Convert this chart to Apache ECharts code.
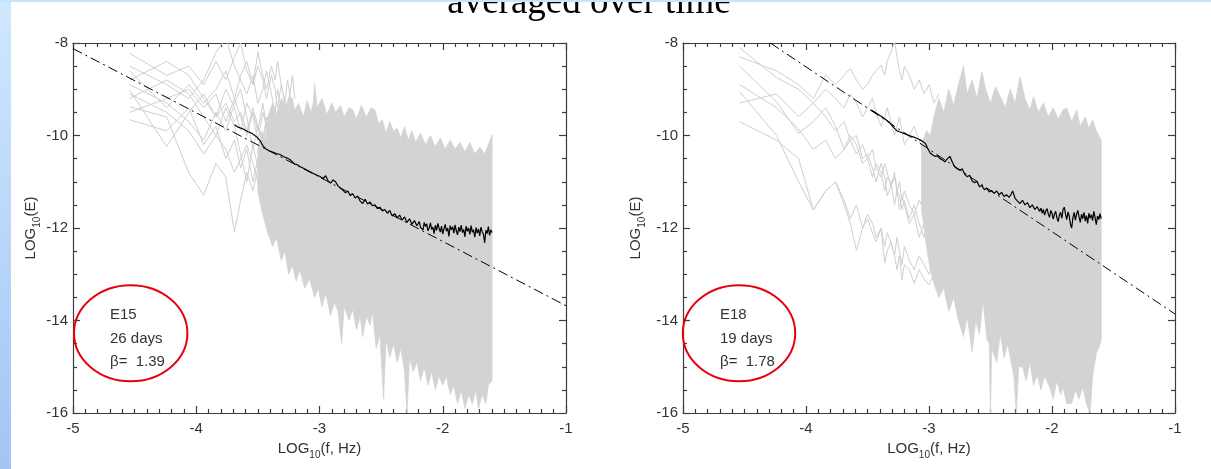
<!DOCTYPE html>
<html><head><meta charset="utf-8">
<script src="https://cdn.jsdelivr.net/npm/echarts@6/dist/echarts.min.js"></script>
<style>html,body{margin:0;padding:0;background:#fff}#c{width:1211px;height:469px}</style>
</head><body><div id="c"></div>
<script>
// ---------- data ----------
const xTickLabels = ['-5','-4','-3','-2','-1'];
const yTickLabels = ['-16','-14','-12','-10','-8'];
const panelLabels = {
  left:  ['E15', '26 days', 'β=  1.39'],
  right: ['E18', '19 days', 'β=  1.78']
};
// fit lines (dash-dot): [x, y] end points
const leftFit  = [[-5, -8.12], [-1, -13.68]];
const rightFit = [[-4.29, -8.0], [-1, -13.86]];

// frequencies of individual spectra (sparse low-frequency part)
const sparseXLeft = [-4.54,-4.24,-4.06,-3.94,-3.84,-3.76,-3.69,-3.64,-3.59,-3.54,-3.50,-3.46,-3.43,-3.39,-3.36,-3.34,-3.31,-3.28,-3.26,-3.24,-3.22,-3.20];
const leftSpec1 = [-8.22,-8.7,-8.5,-8.9,-8.4,-8.8,-8.3,-8.0,-8.6,-8.9,-8.5,-8.8,-9.2,-8.7,-9.0,-9.4,-8.9,-9.3,-9.6,-9.2,-9.5,-9.7];
const leftSpec2 = [-9.02,-10.24,-9.5,-9.1,-9.6,-9.0,-9.4,-9.9,-9.3,-9.6,-10.1,-9.5,-9.8,-10.3,-9.7,-10.0,-10.4,-9.9,-10.2,-10.6,-10.1,-10.4];
const leftSpec3 = [-9.38,-9.6,-10.81,-11.29,-10.6,-10.9,-12.09,-11.4,-10.8,-11.2,-10.7,-11.5,-11.0,-10.6,-11.1,-11.6,-10.9,-11.3,-10.8,-11.4,-11.0,-11.5];
const leftSpec4 = [-9.66,-9.9,-9.4,-10.2,-9.8,-10.5,-10.1,-10.7,-10.3,-11.0,-10.5,-11.3,-10.8,-12.3,-11.2,-11.7,-11.0,-11.6,-12.0,-11.3,-11.8,-12.1];
const leftSpec5 = [-8.5,-8.9,-9.2,-8.8,-8.2,-7.9,-8.5,-8.8,-9.1,-8.7,-9.3,-9.0,-8.6,-9.1,-9.5,-9.0,-9.4,-9.8,-9.3,-9.7,-9.2,-9.6];
const leftSpec6 = [-8.9,-9.3,-9.7,-10.1,-9.5,-9.9,-9.3,-9.0,-9.6,-10.3,-9.8,-10.2,-9.7,-10.5,-10.0,-10.6,-10.2,-9.9,-10.5,-10.8,-10.3,-10.7];
const leftSpec7 = [-9.2,-8.8,-9.1,-9.6,-10.0,-9.4,-9.8,-10.4,-11.0,-10.2,-10.7,-10.3,-11.1,-10.6,-11.4,-10.9,-11.6,-11.2,-10.7,-11.3,-11.7,-11.2];
const leftSpec8 = [-8.6,-9.4,-8.9,-9.3,-9.0,-8.6,-9.2,-8.7,-8.4,-8.9,-8.2,-8.7,-9.0,-8.5,-8.8,-8.4,-8.9,-9.3,-8.8,-9.1,-8.7,-9.2];
const leftSpec9 = [-9.1,-9.5,-9.9,-10.4,-10.0,-10.3,-10.8,-10.5,-10.2,-10.6,-11.0,-10.7,-10.4,-10.9,-11.3,-10.8,-11.1,-11.5,-11.0,-11.3,-11.7,-11.4];
const leftSpec10 = [-8.8,-8.4,-8.7,-9.2,-9.6,-9.3,-9.7,-9.5,-9.9,-9.4,-9.8,-10.1,-9.6,-10.0,-9.7,-10.2,-9.8,-10.3,-10.0,-10.4,-9.9,-10.2];
const leftSpec11 = [-9.5,-9.2,-9.0,-9.4,-9.1,-9.7,-9.2,-9.6,-10.0,-9.5,-9.9,-9.3,-9.8,-9.4,-10.1,-9.6,-10.0,-9.5,-9.9,-10.3,-9.8,-10.2];

const sparseXRight = [-4.54,-4.24,-4.06,-3.94,-3.84,-3.76,-3.69,-3.64,-3.59,-3.54,-3.50,-3.46,-3.43,-3.39,-3.36,-3.34,-3.31,-3.28,-3.26,-3.24,-3.22,-3.20,-3.16,-3.12,-3.08,-3.04,-3.00,-2.96,-2.92];
const rightSpec1 = [-8.1,-8.75,-9.0,-9.3,-9.6,-9.9,-9.7,-10.1,-10.4,-10.2,-10.5,-10.9,-10.6,-10.8,-11.2,-10.9,-11.0,-11.5,-11.2,-11.3,-11.6,-11.4,-11.8,-11.5,-11.9,-12.2,-11.8,-12.0,-12.3];
const rightSpec2 = [-8.5,-9.27,-9.95,-9.7,-9.4,-9.8,-10.3,-10.1,-10.0,-10.5,-10.4,-10.7,-11.0,-10.6,-10.9,-11.3,-11.1,-10.8,-11.2,-11.6,-11.3,-11.5,-11.9,-11.7,-12.2,-11.9,-12.4,-12.1,-12.6];
const rightSpec3 = [-9.05,-10.0,-11.0,-11.6,-11.2,-11.0,-11.5,-11.9,-12.48,-12.0,-11.8,-12.11,-12.3,-12.0,-12.76,-12.5,-12.3,-12.6,-12.9,-12.6,-13.12,-12.8,-12.9,-13.2,-12.9,-13.1,-13.23,-13.0,-13.4];
const rightSpec4 = [-8.3,-8.6,-8.9,-9.2,-8.69,-8.9,-8.7,-8.55,-8.8,-9.0,-8.9,-8.7,-8.6,-8.48,-8.7,-8.4,-8.2,-7.96,-8.3,-8.6,-8.8,-8.5,-8.7,-9.0,-8.8,-9.1,-8.9,-9.3,-9.1];
const rightSpec5 = [-8.9,-9.4,-9.86,-10.3,-10.1,-10.5,-10.3,-10.0,-10.2,-10.6,-10.5,-10.3,-10.7,-10.9,-10.6,-10.8,-11.1,-10.9,-11.2,-11.0,-11.4,-11.2,-11.5,-11.7,-11.4,-11.6,-11.9,-11.7,-12.0];
const rightSpec6 = [-9.7,-10.1,-10.5,-11.61,-11.2,-11.0,-11.4,-11.8,-11.5,-12.0,-11.7,-11.9,-12.2,-12.0,-12.4,-12.1,-12.3,-12.6,-12.2,-12.5,-12.8,-12.4,-12.7,-12.9,-12.6,-12.8,-13.0,-12.7,-13.1];
const rightSpec7 = [-9.3,-9.1,-9.59,-9.3,-9.0,-9.2,-9.4,-9.1,-9.3,-9.6,-9.4,-9.2,-9.5,-9.8,-9.6,-9.4,-9.7,-10.0,-9.8,-9.6,-9.9,-10.2,-10.0,-9.8,-10.1,-10.4,-10.2,-10.0,-10.3];

// envelope of the dense high-frequency part of all spectra
const leftUpper = [[-3.5,-10.3],[-3.47,-9.9],[-3.44,-10.1],[-3.42,-9.6],[-3.38,-9.3],[-3.35,-9.55],[-3.31,-9.2],[-3.27,-9.35],[-3.24,-9.1],[-3.2,-9.45],[-3.17,-9.3],[-3.13,-9.6],[-3.1,-9.25],[-3.07,-9.5],[-3.05,-9.3],[-3.04,-8.87],[-3.02,-9.4],[-2.98,-9.2],[-2.94,-9.55],[-2.9,-9.3],[-2.87,-9.5],[-2.83,-9.35],[-2.8,-9.6],[-2.76,-9.4],[-2.73,-9.45],[-2.7,-9.65],[-2.66,-9.35],[-2.62,-9.6],[-2.58,-9.4],[-2.55,-9.45],[-2.52,-9.75],[-2.49,-9.66],[-2.46,-9.95],[-2.43,-9.7],[-2.4,-9.9],[-2.37,-9.85],[-2.34,-10.05],[-2.31,-9.8],[-2.28,-10.1],[-2.25,-9.9],[-2.22,-10.15],[-2.18,-9.95],[-2.14,-10.2],[-2.1,-10.0],[-2.06,-10.25],[-2.02,-10.05],[-1.98,-10.3],[-1.94,-10.1],[-1.9,-10.3],[-1.86,-10.15],[-1.82,-10.35],[-1.78,-10.15],[-1.74,-10.4],[-1.7,-10.25],[-1.66,-10.4],[-1.63,-10.2],[-1.6,-9.99]];
const leftLower = [[-3.5,-11.2],[-3.47,-11.6],[-3.44,-11.9],[-3.42,-12.1],[-3.38,-12.4],[-3.35,-12.2],[-3.31,-12.7],[-3.28,-12.5],[-3.25,-13.0],[-3.22,-12.8],[-3.19,-13.15],[-3.16,-12.9],[-3.12,-13.3],[-3.08,-13.1],[-3.04,-13.5],[-3.01,-13.3],[-2.98,-13.7],[-2.95,-13.4],[-2.91,-13.9],[-2.88,-13.6],[-2.85,-13.8],[-2.82,-14.5],[-2.80,-13.7],[-2.76,-14.0],[-2.73,-13.75],[-2.70,-14.2],[-2.67,-13.9],[-2.65,-14.35],[-2.62,-13.9],[-2.59,-14.1],[-2.57,-13.8],[-2.54,-14.6],[-2.51,-14.3],[-2.48,-15.7],[-2.46,-14.4],[-2.43,-14.8],[-2.40,-14.5],[-2.37,-14.9],[-2.34,-14.6],[-2.31,-15.1],[-2.29,-16.0],[-2.27,-14.8],[-2.24,-15.1],[-2.21,-14.9],[-2.18,-15.3],[-2.15,-15.0],[-2.12,-15.4],[-2.09,-15.1],[-2.06,-15.5],[-2.03,-15.2],[-2.0,-15.4],[-1.97,-15.2],[-1.94,-15.6],[-1.91,-15.4],[-1.88,-15.8],[-1.85,-15.5],[-1.82,-15.9],[-1.79,-15.6],[-1.76,-15.8],[-1.73,-15.5],[-1.71,-15.9],[-1.68,-15.6],[-1.65,-15.8],[-1.63,-15.4],[-1.6,-15.3]];
const rightUpper = [[-3.06,-10.2],[-3.02,-9.9],[-2.99,-10.0],[-2.96,-9.6],[-2.92,-9.2],[-2.88,-9.5],[-2.84,-9.0],[-2.8,-9.35],[-2.76,-8.9],[-2.72,-8.5],[-2.69,-9.1],[-2.65,-8.8],[-2.61,-9.2],[-2.57,-8.62],[-2.54,-9.0],[-2.5,-9.3],[-2.46,-8.95],[-2.42,-9.16],[-2.38,-9.4],[-2.34,-9.0],[-2.3,-9.3],[-2.26,-8.73],[-2.22,-9.2],[-2.18,-9.45],[-2.15,-9.16],[-2.11,-9.5],[-2.07,-9.3],[-2.03,-9.6],[-1.99,-9.4],[-1.95,-9.65],[-1.91,-9.45],[-1.88,-9.41],[-1.84,-9.7],[-1.8,-9.45],[-1.77,-9.8],[-1.73,-9.6],[-1.7,-9.85],[-1.67,-9.66],[-1.64,-9.9],[-1.6,-10.1]];
const rightLower = [[-3.06,-11.6],[-3.02,-12.4],[-2.99,-12.9],[-2.96,-13.2],[-2.92,-13.5],[-2.88,-13.3],[-2.84,-13.8],[-2.8,-13.5],[-2.76,-14.0],[-2.72,-14.35],[-2.69,-13.9],[-2.65,-14.67],[-2.62,-14.0],[-2.59,-14.3],[-2.56,-13.56],[-2.53,-14.4],[-2.51,-14.5],[-2.50,-16.0],[-2.49,-14.6],[-2.45,-14.9],[-2.42,-14.28],[-2.39,-14.8],[-2.36,-14.5],[-2.34,-14.78],[-2.31,-15.2],[-2.29,-16.0],[-2.27,-15.0],[-2.24,-15.0],[-2.21,-15.3],[-2.18,-14.9],[-2.15,-15.4],[-2.12,-15.18],[-2.09,-15.5],[-2.06,-15.2],[-2.02,-15.43],[-1.99,-15.7],[-1.96,-15.3],[-1.93,-15.6],[-1.91,-15.43],[-1.88,-15.8],[-1.84,-15.79],[-1.81,-15.5],[-1.78,-15.7],[-1.75,-15.43],[-1.72,-15.8],[-1.69,-16.0],[-1.67,-15.2],[-1.64,-14.71],[-1.62,-14.6],[-1.6,-14.42]];

// time-averaged spectra (black)
const leftMean = [[-3.69,-9.77],[-3.66,-9.82],[-3.62,-9.86],[-3.58,-9.92],[-3.55,-9.95],[-3.51,-10.03],[-3.48,-10.12],[-3.46,-10.22],[-3.44,-10.28],[-3.41,-10.33],[-3.38,-10.36],[-3.35,-10.39],[-3.32,-10.41],[-3.29,-10.46],[-3.26,-10.49],[-3.24,-10.52],[-3.22,-10.57],[-3.20,-10.62],[-3.18,-10.63],[-3.16,-10.67],[-3.13,-10.71],[-3.10,-10.75],[-3.08,-10.78],[-3.05,-10.82],[-3.02,-10.86],[-3.00,-10.88],[-2.97,-10.93],[-2.95,-10.87],[-2.93,-10.98],[-2.91,-11.03],[-2.89,-10.96],[-2.87,-11.0],[-2.85,-11.09],[-2.83,-11.14],[-2.81,-11.18],[-2.79,-11.24],[-2.77,-11.2],[-2.75,-11.3],[-2.73,-11.26],[-2.71,-11.35],[-2.69,-11.31],[-2.67,-11.42],[-2.65,-11.47],[-2.63,-11.38],[-2.61,-11.48],[-2.59,-11.44],[-2.57,-11.52],[-2.55,-11.5],[-2.53,-11.58],[-2.51,-11.55],[-2.49,-11.63],[-2.47,-11.6],[-2.45,-11.68],[-2.43,-11.62],[-2.41,-11.74],[-2.39,-11.69],[-2.37,-11.78],[-2.35,-11.72],[-2.33,-11.83],[-2.31,-11.76],[-2.29,-11.88],[-2.27,-11.8],[-2.25,-11.92],[-2.23,-11.84],[-2.21,-11.95],
  [-2.20,-11.93],[-2.19,-11.86],[-2.18,-11.99],[-2.17,-11.95],[-2.16,-12.04],[-2.15,-11.88],[-2.14,-11.97],[-2.13,-11.91],[-2.12,-12.06],[-2.11,-12.0],[-2.10,-11.89],[-2.09,-12.03],[-2.08,-11.98],[-2.07,-12.12],[-2.06,-11.94],[-2.05,-12.05],[-2.04,-11.9],[-2.03,-12.0],[-2.02,-12.09],[-2.01,-11.96],[-2.00,-12.13],[-1.99,-12.02],[-1.98,-11.92],[-1.97,-12.07],[-1.96,-12.0],[-1.95,-12.18],[-1.94,-11.95],[-1.93,-12.04],[-1.92,-11.97],[-1.91,-12.11],[-1.90,-11.93],[-1.89,-12.06],[-1.88,-12.15],[-1.87,-11.98],[-1.86,-12.08],[-1.85,-11.94],[-1.84,-12.1],[-1.83,-12.03],[-1.82,-12.19],[-1.81,-11.96],[-1.80,-12.07],[-1.79,-12.0],[-1.78,-12.14],[-1.77,-11.95],[-1.76,-12.09],[-1.75,-12.04],[-1.74,-12.2],[-1.73,-11.99],[-1.72,-12.11],[-1.71,-12.02],[-1.70,-12.17],[-1.69,-11.98],[-1.68,-12.08],[-1.67,-12.13],[-1.66,-12.32],[-1.65,-12.05],[-1.64,-12.12],[-1.63,-11.97],[-1.62,-12.16],[-1.61,-12.04],[-1.60,-12.1]];
const rightMean = [[-3.47,-9.45],[-3.44,-9.5],[-3.41,-9.55],[-3.38,-9.6],[-3.35,-9.66],[-3.32,-9.72],[-3.29,-9.82],[-3.26,-9.9],[-3.24,-9.92],[-3.21,-9.95],[-3.18,-9.98],[-3.15,-10.01],[-3.13,-10.03],[-3.10,-10.06],[-3.07,-10.1],[-3.05,-10.13],[-3.03,-10.17],[-3.01,-10.28],[-2.99,-10.38],[-2.97,-10.42],[-2.95,-10.45],[-2.93,-10.44],[-2.91,-10.5],[-2.89,-10.53],[-2.87,-10.57],[-2.85,-10.5],[-2.83,-10.45],[-2.81,-10.58],[-2.79,-10.68],[-2.77,-10.72],[-2.75,-10.75],[-2.73,-10.72],[-2.71,-10.84],[-2.69,-10.89],[-2.67,-10.86],[-2.65,-10.98],[-2.63,-11.02],[-2.61,-10.99],[-2.59,-11.11],[-2.57,-11.08],[-2.55,-11.17],[-2.53,-11.14],[-2.51,-11.22],[-2.49,-11.19],[-2.47,-11.25],[-2.45,-11.2],[-2.43,-11.28],[-2.41,-11.23],[-2.39,-11.32],[-2.37,-11.28],[-2.35,-11.34],[-2.33,-11.26],[-2.32,-11.2],[-2.30,-11.36],[-2.28,-11.42],[-2.26,-11.47],[-2.24,-11.4],[-2.22,-11.5],[-2.20,-11.45],[-2.18,-11.56],[-2.16,-11.5],[-2.14,-11.6],[-2.12,-11.54],
  [-2.10,-11.64],[-2.09,-11.57],[-2.08,-11.68],[-2.07,-11.6],[-2.06,-11.72],[-2.05,-11.63],[-2.04,-11.58],[-2.03,-11.7],[-2.02,-11.77],[-2.01,-11.62],[-2.00,-11.68],[-1.99,-11.81],[-1.98,-11.7],[-1.97,-11.64],[-1.96,-11.78],[-1.95,-11.86],[-1.94,-11.72],[-1.93,-11.66],[-1.92,-11.79],[-1.91,-11.6],[-1.90,-11.55],[-1.89,-11.7],[-1.88,-11.82],[-1.87,-11.65],[-1.86,-11.74],[-1.85,-11.92],[-1.84,-12.0],[-1.83,-11.78],[-1.82,-11.66],[-1.81,-11.83],[-1.80,-11.7],[-1.79,-11.62],[-1.78,-11.76],[-1.77,-11.88],[-1.76,-11.7],[-1.75,-11.8],[-1.74,-11.66],[-1.73,-11.85],[-1.72,-11.73],[-1.71,-11.9],[-1.70,-11.68],[-1.69,-11.79],[-1.68,-11.71],[-1.67,-11.84],[-1.66,-11.64],[-1.65,-11.77],[-1.64,-11.93],[-1.63,-11.74],[-1.62,-11.82],[-1.61,-11.69],[-1.60,-11.8]];

// ---------- styling ----------
const FONT = 'Liberation Sans, Arial, sans-serif';
const AX = '#3c3c3c';
const TXT = '#333';
const GRAY = '#d3d3d3';

const leftSpecs = [leftSpec1,leftSpec2,leftSpec3,leftSpec4,leftSpec5,leftSpec6,leftSpec7,leftSpec8,leftSpec9,leftSpec10,leftSpec11];
const rightSpecs = [rightSpec1,rightSpec2,rightSpec3,rightSpec4,rightSpec5,rightSpec6,rightSpec7];

const nameRich = {
  a: {fontSize: 15, color: TXT, fontFamily: FONT, verticalAlign: 'bottom', padding: [0, 0, 4, 0]},
  s: {fontSize: 10, color: TXT, fontFamily: FONT, verticalAlign: 'bottom'}
};

function xAx(grid, pos, withLabel) {
  return {
    gridIndex: grid, type: 'value', position: pos, min: -5, max: -1, interval: 1,
    axisLine: {show: true, onZero: false, lineStyle: {color: AX, width: 1.2}},
    axisTick: {show: true, inside: true, length: 7, lineStyle: {color: AX, width: 1.2}},
    minorTick: {show: true, splitNumber: 10, length: 4, lineStyle: {color: AX, width: 1.2}},
    splitLine: {show: false},
    axisLabel: withLabel ? {show: true, margin: 8, fontSize: 15, color: TXT, fontFamily: FONT,
      formatter: v => xTickLabels[Math.round(v + 5)]} : {show: false},
    name: withLabel ? '{a|LOG}{s|10}{a|(f, Hz)}' : '',
    nameLocation: 'middle', nameGap: 24,
    nameTextStyle: {rich: nameRich}
  };
}
function yAx(grid, pos, withLabel, gap) {
  return {
    gridIndex: grid, type: 'value', position: pos, min: -16, max: -8, interval: 2,
    axisLine: {show: true, onZero: false, lineStyle: {color: AX, width: 1.2}},
    axisTick: {show: true, inside: true, length: 7, lineStyle: {color: AX, width: 1.2}},
    minorTick: {show: true, splitNumber: 4, length: 4, lineStyle: {color: AX, width: 1.2}},
    splitLine: {show: false},
    axisLabel: withLabel ? {show: true, margin: 5, fontSize: 15, color: TXT, fontFamily: FONT,
      formatter: v => yTickLabels[Math.round((v + 16) / 2)]} : {show: false},
    name: withLabel ? '{a|LOG}{s|10}{a|(E)}' : '',
    nameLocation: 'middle', nameGap: gap,
    nameTextStyle: {rich: nameRich}
  };
}

function zip(xs, ys) { return xs.map((x, i) => [x, ys[i]]); }

function bandSeries(xi, yi, upper, lower) {
  const pts = upper.concat(lower.slice().reverse());
  return {
    type: 'custom', xAxisIndex: xi, yAxisIndex: yi, silent: true, z: 2,
    data: [pts[0]],
    renderItem: (params, api) => ({
      type: 'polygon',
      shape: {points: pts.map(p => api.coord(p))},
      style: {fill: GRAY, stroke: GRAY, lineWidth: 0.8}
    })
  };
}
function specSeries(xi, yi, xs, ys) {
  return {type: 'line', xAxisIndex: xi, yAxisIndex: yi, data: zip(xs, ys), symbol: 'none', silent: true, z: 1,
    lineStyle: {color: '#cfcfcf', width: 1}};
}
function meanSeries(xi, yi, d) {
  return {type: 'line', xAxisIndex: xi, yAxisIndex: yi, data: d, symbol: 'none', silent: true, z: 3,
    lineStyle: {color: '#000', width: 1.2}};
}
function fitSeries(xi, yi, d) {
  return {type: 'line', xAxisIndex: xi, yAxisIndex: yi, data: d, symbol: 'none', silent: true, z: 4,
    lineStyle: {color: '#000', width: 1, type: [10, 4, 2, 4]}};
}

const series = [];
leftSpecs.forEach(s => series.push(specSeries(0, 0, sparseXLeft, s)));
rightSpecs.forEach(s => series.push(specSeries(2, 2, sparseXRight, s)));
series.push(bandSeries(0, 0, leftUpper, leftLower));
series.push(bandSeries(2, 2, rightUpper, rightLower));
series.push(meanSeries(0, 0, leftMean));
series.push(meanSeries(2, 2, rightMean));
series.push(fitSeries(0, 0, leftFit));
series.push(fitSeries(2, 2, rightFit));

function labelBlock(x, lines) {
  return lines.map((t, i) => ({
    type: 'text', x: x, y: 315 + i * 23.5, z: 10,
    style: {text: t, font: '15px ' + FONT, fill: TXT, textAlign: 'left', textVerticalAlign: 'middle'}
  }));
}

const chart = echarts.init(document.getElementById('c'), null, {renderer: 'canvas'});
chart.setOption({
  animation: false,
  backgroundColor: '#fff',
  grid: [
    {left: 73, top: 43, width: 493, height: 370},
    {left: 683, top: 43, width: 492, height: 370}
  ],
  xAxis: [xAx(0, 'bottom', true), xAx(0, 'top', false), xAx(1, 'bottom', true), xAx(1, 'top', false)],
  yAxis: [yAx(0, 'left', true, 18), yAx(0, 'right', false, 0), yAx(1, 'left', true, 36), yAx(1, 'right', false, 0)],
  series: series,
  graphic: [
    {type: 'rect', left: 0, top: 0, z: 20, shape: {width: 11, height: 469},
      style: {fill: new echarts.graphic.LinearGradient(0, 0, 0, 1, [{offset: 0, color: '#cfe8ff'}, {offset: 1, color: '#a4c4f4'}])}},
    {type: 'rect', left: 0, top: 0, z: 20, shape: {width: 1211, height: 2}, style: {fill: '#c6e4fd'}},
    {type: 'text', x: 589, y: 3, z: 19,
      style: {text: 'averaged over time', font: '37px Liberation Serif, Times New Roman, serif', fill: '#000', textAlign: 'center', textVerticalAlign: 'middle'}},
    {type: 'ellipse', z: 10, shape: {cx: 130.7, cy: 333.3, rx: 56.7, ry: 48}, style: {fill: 'none', stroke: '#e8000b', lineWidth: 2}},
    {type: 'ellipse', z: 10, shape: {cx: 739, cy: 333.3, rx: 56.2, ry: 48}, style: {fill: 'none', stroke: '#e8000b', lineWidth: 2}}
  ].concat(labelBlock(110, panelLabels.left), labelBlock(720, panelLabels.right))
});
</script></body></html>
